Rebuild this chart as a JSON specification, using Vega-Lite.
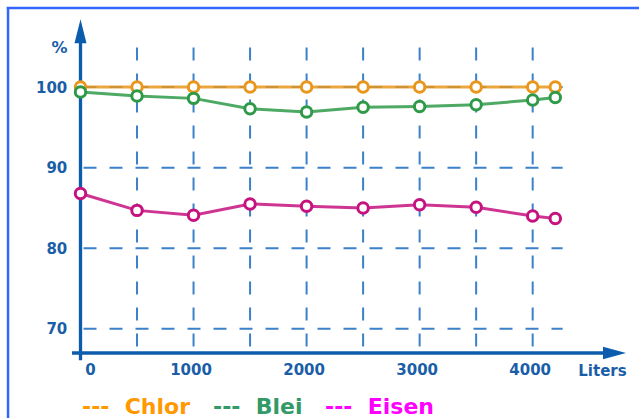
{
  "$schema": "https://vega.github.io/schema/vega-lite/v6.json",
  "width": 546,
  "height": 334,
  "autosize": {"type": "none"},
  "padding": {"left": 80.5, "top": 19, "right": 12.5, "bottom": 65},
  "background": "white",
  "config": {"view": {"stroke": null}, "font": "DejaVu Sans"},
  "datasets": {
    "series": [
      {"liters": 0, "pct": 100, "element": "Chlor"},
      {"liters": 500, "pct": 100, "element": "Chlor"},
      {"liters": 1000, "pct": 100, "element": "Chlor"},
      {"liters": 1500, "pct": 100, "element": "Chlor"},
      {"liters": 2000, "pct": 100, "element": "Chlor"},
      {"liters": 2500, "pct": 100, "element": "Chlor"},
      {"liters": 3000, "pct": 100, "element": "Chlor"},
      {"liters": 3500, "pct": 100, "element": "Chlor"},
      {"liters": 4000, "pct": 100, "element": "Chlor"},
      {"liters": 4200, "pct": 100, "element": "Chlor"},
      {"liters": 0, "pct": 99.4, "element": "Blei"},
      {"liters": 500, "pct": 98.9, "element": "Blei"},
      {"liters": 1000, "pct": 98.6, "element": "Blei"},
      {"liters": 1500, "pct": 97.3, "element": "Blei"},
      {"liters": 2000, "pct": 96.9, "element": "Blei"},
      {"liters": 2500, "pct": 97.5, "element": "Blei"},
      {"liters": 3000, "pct": 97.6, "element": "Blei"},
      {"liters": 3500, "pct": 97.8, "element": "Blei"},
      {"liters": 4000, "pct": 98.4, "element": "Blei"},
      {"liters": 4200, "pct": 98.7, "element": "Blei"},
      {"liters": 0, "pct": 86.8, "element": "Eisen"},
      {"liters": 500, "pct": 84.7, "element": "Eisen"},
      {"liters": 1000, "pct": 84.1, "element": "Eisen"},
      {"liters": 1500, "pct": 85.5, "element": "Eisen"},
      {"liters": 2000, "pct": 85.2, "element": "Eisen"},
      {"liters": 2500, "pct": 85.0, "element": "Eisen"},
      {"liters": 3000, "pct": 85.4, "element": "Eisen"},
      {"liters": 3500, "pct": 85.1, "element": "Eisen"},
      {"liters": 4000, "pct": 84.0, "element": "Eisen"},
      {"liters": 4200, "pct": 83.7, "element": "Eisen"}
    ],
    "xgrid": [
      {"liters": 500}, {"liters": 1000}, {"liters": 1500}, {"liters": 2000},
      {"liters": 2500}, {"liters": 3000}, {"liters": 3500}, {"liters": 4000}
    ],
    "ygrid": [{"pct": 70}, {"pct": 80}, {"pct": 90}, {"pct": 100}],
    "one": [{}]
  },
  "layer": [
    {
      "data": {"name": "one"},
      "mark": {"type": "rule", "stroke": "#3366FF", "strokeWidth": 2.5},
      "encoding": {
        "x": {"datum": -652, "type": "quantitative"},
        "x2": {"datum": 5000},
        "y": {"datum": 109.8, "type": "quantitative"}
      }
    },
    {
      "data": {"name": "one"},
      "mark": {"type": "rule", "stroke": "#3366FF", "strokeWidth": 2.5},
      "encoding": {
        "x": {"datum": -641, "type": "quantitative"},
        "y": {"datum": 109.95, "type": "quantitative"},
        "y2": {"datum": 57}
      }
    },
    {
      "data": {"name": "xgrid"},
      "mark": {"type": "rule", "stroke": "#3b80c8", "strokeWidth": 2, "strokeDash": [13, 13]},
      "encoding": {
        "x": {"field": "liters", "type": "quantitative"},
        "y": {"datum": 104.9, "type": "quantitative"},
        "y2": {"datum": 67}
      }
    },
    {
      "data": {"name": "ygrid"},
      "mark": {"type": "rule", "stroke": "#3b80c8", "strokeWidth": 2, "strokeDash": [13, 13], "strokeDashOffset": 23},
      "encoding": {
        "y": {"field": "pct", "type": "quantitative"},
        "x": {"datum": 0, "type": "quantitative"},
        "x2": {"datum": 4265}
      }
    },
    {
      "data": {"name": "one"},
      "mark": {"type": "rule", "stroke": "#0b5cad", "strokeWidth": 3.3},
      "encoding": {
        "x": {"datum": 0, "type": "quantitative"},
        "y": {"datum": 66.1, "type": "quantitative"},
        "y2": {"datum": 106}
      }
    },
    {
      "data": {"name": "one"},
      "mark": {"type": "rule", "stroke": "#0b5cad", "strokeWidth": 3.3},
      "encoding": {
        "y": {"datum": 67, "type": "quantitative"},
        "x": {"datum": -75, "type": "quantitative"},
        "x2": {"datum": 4700}
      }
    },
    {
      "data": {"name": "series"},
      "mark": {"type": "line", "strokeWidth": 3, "opacity": 0.85},
      "encoding": {
        "x": {
          "field": "liters",
          "type": "quantitative",
          "scale": {"domain": [0, 4830], "nice": false, "zero": false},
          "axis": {
            "values": [0, 1000, 2000, 3000, 4000],
            "format": "d",
            "domain": false,
            "ticks": false,
            "grid": false,
            "labelFlush": false,
            "labelOverlap": false,
            "labelFont": "DejaVu Sans",
            "labelFontWeight": "bold",
            "labelFontSize": 15,
            "labelColor": "#1a5ea8",
            "labelPadding": 9.5,
            "labelOffset": {"condition": {"test": "datum.value == 0", "value": 9.5}, "value": -3},
            "title": "Liters",
            "titleFont": "DejaVu Sans",
            "titleFontWeight": "bold",
            "titleFontSize": 15,
            "titleColor": "#1a5ea8",
            "titleX": 521.5,
            "titleY": 17.8,
            "titleAlign": "center",
            "titleBaseline": "middle",
            "titleAngle": 0
          }
        },
        "y": {
          "field": "pct",
          "type": "quantitative",
          "scale": {"domain": [67, 108.45], "nice": false, "zero": false},
          "axis": {
            "values": [70, 80, 90, 100],
            "domain": false,
            "ticks": false,
            "grid": false,
            "labelOverlap": false,
            "labelFlush": false,
            "labelFont": "DejaVu Sans",
            "labelFontWeight": "bold",
            "labelFontSize": 15,
            "labelColor": "#1a5ea8",
            "labelPadding": 13.7,
            "title": "%",
            "titleFont": "DejaVu Sans",
            "titleFontWeight": "bold",
            "titleFontSize": 16,
            "titleColor": "#1a5ea8",
            "titleX": -21.5,
            "titleY": 28.5,
            "titleAlign": "center",
            "titleBaseline": "middle",
            "titleAngle": 0
          }
        },
        "color": {
          "field": "element",
          "type": "nominal",
          "scale": {"domain": ["Chlor", "Blei", "Eisen"], "range": ["#E8961C", "#2E9A48", "#C5127F"]},
          "legend": {
            "orient": "none",
            "legendX": -20.5,
            "legendY": 376.5,
            "direction": "horizontal",
            "title": null,
            "padding": 0,
            "labelExpr": "'--- \u00a0' + datum.label",
            "labelColor": {"expr": "datum.value == 'Chlor' ? '#FF9900' : datum.value == 'Blei' ? '#339966' : '#FF00FF'"},
            "labelFont": "DejaVu Sans",
            "labelFontSize": 22,
            "labelFontWeight": "bold",
            "labelLimit": 400,
            "labelOffset": 0,
            "symbolSize": 0,
            "symbolOpacity": 0,
            "symbolStrokeWidth": 0,
            "columnPadding": -2
          }
        }
      }
    },
    {
      "data": {"name": "series"},
      "mark": {"type": "point", "shape": "circle", "size": 110, "strokeWidth": 3, "filled": true, "fill": "white", "opacity": 1},
      "encoding": {
        "x": {"field": "liters", "type": "quantitative"},
        "y": {"field": "pct", "type": "quantitative"},
        "stroke": {
          "field": "element",
          "type": "nominal",
          "scale": {"domain": ["Chlor", "Blei", "Eisen"], "range": ["#E8961C", "#2E9A48", "#C5127F"]},
          "legend": null
        }
      }
    },
    {
      "data": {"name": "one"},
      "mark": {"type": "point", "shape": "M0,-1L0.5,1L-0.5,1Z", "size": 576, "filled": true, "color": "#0b5cad", "opacity": 1},
      "encoding": {
        "x": {"datum": 0, "type": "quantitative"},
        "y": {"datum": 106.94, "type": "quantitative"}
      }
    },
    {
      "data": {"name": "one"},
      "mark": {"type": "point", "shape": "M1,0L-1,-0.55L-1,0.55Z", "size": 529, "filled": true, "color": "#0b5cad", "opacity": 1},
      "encoding": {
        "x": {"datum": 4724, "type": "quantitative"},
        "y": {"datum": 67, "type": "quantitative"}
      }
    }
  ]
}
